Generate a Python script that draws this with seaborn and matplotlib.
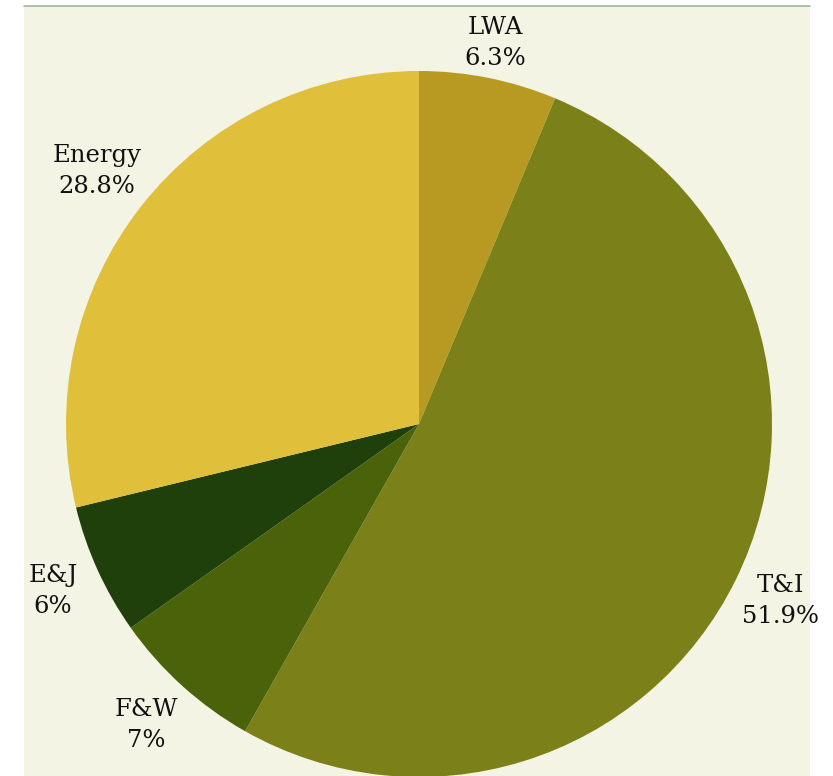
import numpy as np
import seaborn as sns
import matplotlib.pyplot as plt
from matplotlib.patches import Rectangle

# data
sectors = ['LWA', 'T&I', 'F&W', 'E&J', 'Energy']
shares = [6.3, 51.9, 7, 6, 28.8]
share_text = ['6.3%', '51.9%', '7%', '6%', '28.8%']
colors = ['#B89A22', '#7B8118', '#4A620A', '#1F400A', '#E0C03A']
label_dist = [1.10, 1.14, 1.15, 1.14, 1.16]

sns.set_theme(style='white')
plt.rcParams['font.family'] = ['DejaVu Serif']

W, H = 833, 776
fig = plt.figure(figsize=(W / 100, H / 100), dpi=100)
fig.patch.set_facecolor('white')

ax = fig.add_axes([0, 0, 1, 1])
ax.set_facecolor('none')
cx, cy, r = 419, 424, 353

# cream panel with thin top rule
ax.add_patch(Rectangle((24 / W, 0), (810 - 24) / W, (H - 6) / H,
                       transform=fig.transFigure, facecolor='#F3F4E4',
                       edgecolor='none', zorder=-10, clip_on=False))
ax.plot([24 / W, 810 / W], [(H - 6) / H, (H - 6) / H], transform=fig.transFigure,
        color='#9DB89D', lw=1.2, clip_on=False, zorder=-9)

labels = [f'{s}\n{t}' for s, t in zip(sectors, share_text)]
wedges, texts = ax.pie(shares, labels=labels, colors=colors, startangle=90,
                       counterclock=False, labeldistance=1.15, radius=1,
                       wedgeprops=dict(linewidth=0),
                       textprops=dict(fontsize=17.5, color='#111111'))
for w, t, d in zip(wedges, texts, label_dist):
    ang = np.deg2rad((w.theta1 + w.theta2) / 2)
    t.set_position((d * np.cos(ang), d * np.sin(ang)))
    t.set_ha('center')
    t.set_va('center')
    t.set_linespacing(1.45)
ax.set_xlim(-cx / r, (W - cx) / r)
ax.set_ylim(-(H - cy) / r, cy / r)
ax.set_aspect('auto')
ax.axis('off')

plt.savefig('out.png', dpi=100)
